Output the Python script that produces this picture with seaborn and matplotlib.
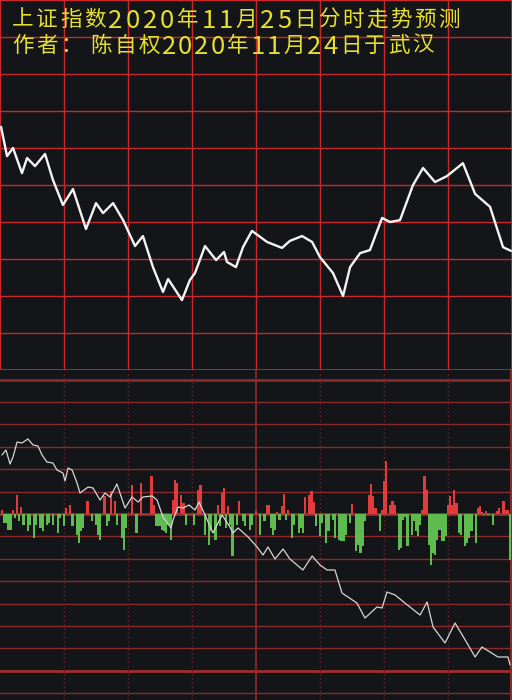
import numpy as np
import matplotlib
matplotlib.use("Agg")
import matplotlib.pyplot as plt
import seaborn as sns

# ---- forecast curve (top panel), minutes after open / grid rows ----
fc_minute = [0.5, 3.3, 6.1, 10.3, 12.7, 16.4, 21.1, 24.8, 29.5, 34.2,
             40.3, 45.0, 48.3, 53.0, 57.7, 63.3, 67.0, 71.7, 76.4, 78.8,
             85.3, 89.0, 91.4, 96.1, 101.3, 105.0, 106.4, 110.6, 113.9, 118.1,
             125.2, 132.2, 135.9, 141.6, 146.3, 150.0, 156.1, 160.8, 164.1, 168.8,
             173.4, 179.1, 182.8, 187.5, 193.6, 198.3, 203.9, 209.5, 217.0, 222.7,
             229.7, 235.8, 239.5]
fc_value = [6.57, 5.78, 6.00, 5.32, 5.73, 5.51, 5.84, 5.14, 4.46, 4.89,
            3.81, 4.51, 4.24, 4.51, 4.05, 3.35, 3.62, 2.78, 2.11, 2.46,
            1.89, 2.43, 2.62, 3.35, 2.97, 3.19, 2.92, 2.78, 3.32, 3.76,
            3.46, 3.30, 3.49, 3.62, 3.46, 3.05, 2.62, 2.00, 2.78, 3.16,
            3.24, 4.11, 4.00, 4.05, 5.00, 5.46, 5.08, 5.24, 5.59, 4.76,
            4.41, 3.32, 3.22]

# ---- actual intraday price line (bottom panel) ----
price_minute = [0.9, 2.8, 4.7, 6.1, 8.0, 10.3, 13.1, 15.5, 17.8, 19.7,
                22.0, 24.8, 26.7, 29.5, 30.5, 31.9, 33.8, 36.1, 37.5, 41.3,
                43.6, 46.9, 49.2, 51.6, 54.8, 58.6, 61.9, 64.7, 67.0, 71.3,
                73.6, 76.4, 80.2, 81.1, 83.4, 85.8, 88.6, 91.4, 93.3, 96.1,
                99.8, 104.1, 107.8, 109.2, 111.6, 116.3, 120.5, 123.3, 125.6, 128.9,
                132.7, 135.9, 142.0, 146.3, 150.0, 153.3, 157.0, 160.3, 163.1, 167.3,
                171.1, 176.7, 179.1, 181.4, 185.2, 189.8, 196.9, 200.2, 203.0, 208.6,
                213.3, 218.9, 222.7, 225.9, 229.7, 233.4, 238.1, 239.1]
price_value = [59, 64, 50, 57, 72, 71, 75, 69, 68, 59,
               52, 51, 44, 41, 33, 46, 44, 31, 21, 27,
               26, 14, 21, 17, 30, 6, 17, 12, 17, 18,
               14, -3, -14, -6, 7, 6, 9, 4, 12, -1,
               -19, -1, -13, -19, -14, -23, -33, -41, -33, -45,
               -35, -45, -56, -42, -51, -56, -56, -79, -83, -89,
               -104, -93, -94, -78, -81, -89, -101, -88, -113, -129,
               -109, -129, -143, -133, -138, -143, -143, -151]

# ---- red (up) bars ----
red_minute = [1, 6, 8, 10, 31, 33, 41, 49, 52, 54,
              62, 66, 71, 72, 81, 82, 83, 85, 86, 93, 94, 102, 104, 105, 107, 112, 120,
              125, 126, 130, 132, 133, 135, 143, 145, 146, 147, 165, 173, 174, 175, 176, 179,
              180, 181, 183, 184, 185, 198, 199, 200, 210, 211, 212, 213, 214, 224, 225,
              226, 228, 233, 234, 236, 237, 238]
red_height = [4, 4, 19, 7, 6, 9, 13, 18, 23, 13,
              29, 31, 38, 9, 14, 34, 31, 19, 11, 24, 29, 9, 21, 26, 8, 13, 3,
              9, 9, 2, 8, 20, 4, 17, 19, 23, 12, 10, 19, 30, 18, 6, 4,
              33, 53, 9, 13, 9, 4, 38, 24, 9, 18, 9, 24, 11, 6, 8,
              2, 3, 3, 6, 13, 4, 4]

# ---- green (down) bars ----
green_minute = [2, 3, 4, 5, 7, 9, 11, 13, 14, 16, 17, 19, 20, 22, 23, 25, 27, 28, 30, 34,
                36, 37, 38, 39, 43, 45, 46, 47, 50, 51, 55, 57, 58, 59,
                64, 73, 74, 75, 76, 77, 78, 80, 79, 87, 91, 96, 98, 99, 101, 103,
                106, 108, 109, 111, 114, 115, 117, 118,
                122, 124, 127, 128, 129, 131, 134, 137, 138, 140, 141, 142, 148, 150, 151,
                153, 154, 156, 157, 159, 160, 161, 162, 164, 167, 168, 169, 170, 171, 178,
                187, 188, 189, 190, 191, 193, 194, 195, 196, 197, 201, 202, 203, 204, 205,
                206, 207, 208, 209, 215, 216, 218, 219, 220, 221, 223, 227, 229, 231, 239]
green_depth = [-9, -9, -16, -16, -4, -7, -11, -17, -11, -24, -11, -14, -17, -11, -9, -11, -19, -4, -12, -12,
               -21, -29, -17, -14, -7, -11, -21, -26, -12, -7, -11, -24, -36, -14,
               -19, -12, -12, -12, -16, -17, -19, -26, -11, -11, -11, -21, -31, -17, -26, -12,
               -14, -11, -42, -11, -7, -12, -16, -11,
               -21, -7, -14, -21, -16, -6, -6, -24, -11, -19, -14, -19, -12, -22, -9,
               -29, -17, -6, -24, -26, -27, -27, -21, -9, -37, -31, -39, -32, -7, -17,
               -36, -34, -6, -3, -32, -21, -7, -17, -22, -11, -31, -51, -39, -41, -26,
               -16, -27, -27, -22, -19, -21, -32, -29, -24, -17, -29, -1, -1, -11, -46]

title_1 = "上证指数2020年11月25日分时走势预测"
title_2 = "作者： 陈自权2020年11月24日于武汉"

BG = "#141518"
RED = "#c9292b"
DARK_RED = "#8a2a2a"
YELLOW = "#e6e02e"

sns.set_theme(style="dark", rc={"axes.facecolor": BG, "figure.facecolor": BG})
plt.rcParams["font.family"] = ["Noto Sans CJK SC", "DejaVu Sans"]

fig = plt.figure(figsize=(5.12, 7.0), dpi=100)
top_h = 370 / 700
ax1 = fig.add_axes([0, 1 - top_h, 1, top_h])
ax2 = fig.add_axes([0, 0, 1, 1 - top_h])

# top panel: red grid + white forecast curve
ax1.set_xlim(0, 240)
ax1.set_ylim(0, 10)
ax1.set_xticks(np.arange(0, 241, 30))
ax1.set_yticks(np.arange(0, 11, 1))
ax1.grid(True, color=RED, lw=1)
ax1.tick_params(length=0, labelbottom=False, labelleft=False)
for s in ax1.spines.values():
    s.set_color(RED)
    s.set_linewidth(1.2)
sns.lineplot(x=fc_minute, y=fc_value, ax=ax1, color="#f4f4f4", lw=1.7,
             solid_joinstyle="round", solid_capstyle="round", zorder=5)
ax1.set_xlabel("")
ax1.set_ylabel("")

# bottom panel: intraday screenshot-like chart
row = 22.4
ax2.set_xlim(0, 240)
ax2.set_ylim(-186, 144)
ax2.set_xticks([])
ax2.set_yticks([])
ax2.grid(False)
for s in ax2.spines.values():
    s.set_visible(False)
for k in range(-8, 7):
    lw = 2.0 if k in (0, -7, 6) else 1.0
    col = "#a32d2d" if k in (0, -7) else DARK_RED
    ax2.axhline(k * row, color=col, lw=lw, zorder=1)
for m in [30, 60, 90, 150, 180, 210]:
    ax2.axvline(m, color="#6e2222", lw=1, ls=(0, (1, 2)), zorder=1)
ax2.axvline(120, color=DARK_RED, lw=1.3, zorder=1)
ax2.axvline(239.6, color=DARK_RED, lw=1.5, zorder=1)

ax2.bar(red_minute, red_height, width=1.0, color="#e23b3b",
        edgecolor="none", linewidth=0, zorder=2)
ax2.bar(green_minute, green_depth, width=1.0, color="#5fba4f",
        edgecolor="none", linewidth=0, zorder=2)
sns.lineplot(x=price_minute, y=price_value, ax=ax2, color="#d6d6d6", lw=0.9, zorder=3)
ax2.set_xlabel("")
ax2.set_ylabel("")


def put_line(text, x0, base_y, cjk_adv, dig_adv):
    # place each character in its own cell to mimic the wide spacing
    x = x0
    for ch in text:
        if ch == " ":
            x += 6
            continue
        if ch.isdigit():
            fig.text((x + dig_adv / 2) / 512, 1 - (base_y + 0.5) / 700, ch,
                     color=YELLOW, fontsize=18.5, ha="center", va="baseline")
            x += dig_adv
        else:
            fig.text((x + cjk_adv / 2) / 512, 1 - (base_y - 1.5) / 700, ch,
                     color=YELLOW, fontsize=15.5, ha="center", va="baseline")
            x += cjk_adv


put_line(title_1, 11, 27, 24, 17.2)
put_line(title_2, 11, 53, 24, 16.2)

fig.savefig("out.png", dpi=100, facecolor=BG)
